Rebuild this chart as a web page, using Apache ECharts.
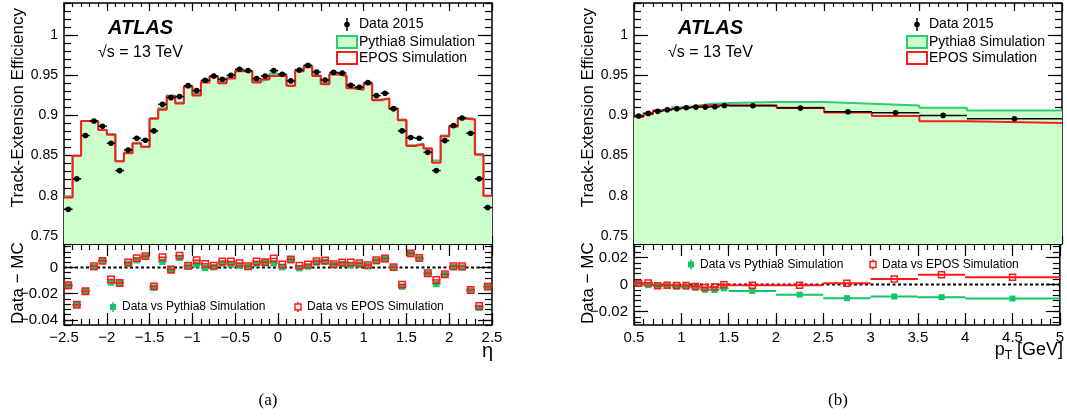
<!DOCTYPE html>
<html>
<head>
<meta charset="utf-8">
<script src="https://cdn.jsdelivr.net/npm/echarts@6/dist/echarts.min.js"></script>
<style>
  html, body { margin: 0; padding: 0; background: #ffffff; }
  #c { width: 1067px; height: 417px; }
</style>
</head>
<body>
<div id="c"></div>
<script>
// ---- eta binning (0.1 wide bins) ----
const etaEdges = [-2.5, -2.4, -2.3, -2.2, -2.1, -2.0, -1.9, -1.8, -1.7, -1.6, -1.5, -1.4, -1.3, -1.2, -1.1, -1.0,
  -0.9, -0.8, -0.7, -0.6, -0.5, -0.4, -0.3, -0.2, -0.1, 0.0, 0.1, 0.2, 0.3, 0.4, 0.5, 0.6, 0.7, 0.8, 0.9, 1.0,
  1.1, 1.2, 1.3, 1.4, 1.5, 1.6, 1.7, 1.8, 1.9, 2.0, 2.1, 2.2, 2.3, 2.4, 2.5];

const etaData = [0.7833, 0.8211, 0.8750, 0.8932, 0.8866, 0.8654, 0.8314, 0.8571, 0.8716, 0.8692,
  0.8808, 0.9139, 0.9222, 0.9235, 0.9371, 0.9309, 0.9438, 0.9492, 0.9450, 0.9500,
  0.9575, 0.9558, 0.9459, 0.9492, 0.9558, 0.9512, 0.9430, 0.9566, 0.9624, 0.9541,
  0.9442, 0.9537, 0.9529, 0.9376, 0.9351, 0.9409, 0.9247, 0.9276, 0.9085, 0.8808,
  0.8725, 0.8716, 0.8542, 0.8314, 0.8687, 0.8874, 0.8969, 0.8779, 0.8211, 0.7854];

const etaPythia = [0.799, 0.850, 0.893, 0.893, 0.882, 0.877, 0.843, 0.854, 0.866, 0.861,
  0.897, 0.909, 0.925, 0.916, 0.936, 0.927, 0.943, 0.949, 0.942, 0.947,
  0.956, 0.955, 0.943, 0.945, 0.952, 0.951, 0.937, 0.957, 0.962, 0.950,
  0.940, 0.952, 0.950, 0.936, 0.933, 0.940, 0.920, 0.921, 0.909, 0.895,
  0.863, 0.865, 0.859, 0.844, 0.875, 0.887, 0.897, 0.896, 0.852, 0.800];

const etaEpos = [0.798, 0.850, 0.893, 0.892, 0.882, 0.876, 0.843, 0.853, 0.865, 0.861,
  0.896, 0.907, 0.924, 0.915, 0.936, 0.925, 0.941, 0.948, 0.940, 0.946,
  0.955, 0.955, 0.941, 0.945, 0.949, 0.949, 0.937, 0.955, 0.960, 0.949,
  0.939, 0.951, 0.949, 0.934, 0.932, 0.939, 0.919, 0.921, 0.908, 0.894,
  0.862, 0.864, 0.859, 0.841, 0.874, 0.886, 0.896, 0.895, 0.851, 0.800];

const etaDiffPythia = [-0.0141, -0.0285, -0.0182, 0.0003, 0.0051, -0.0115, -0.0118, 0.0028, 0.0056, 0.0082,
  -0.0154, 0.0044, -0.0023, 0.0074, 0.0008, 0.0023, -0.0003, 0.0003, 0.0031, 0.0023,
  0.0015, 0.0005, 0.0028, 0.0040, 0.0033, 0.0003, 0.0056, -0.0005, 0.0008, 0.0038,
  0.0044, 0.0018, 0.0028, 0.0018, 0.0023, 0.0010, 0.0049, 0.0064, 0.0000, -0.0146,
  0.0103, 0.0067, -0.0049, -0.0126, -0.0056, 0.0003, 0.0000, -0.0177, -0.0308, -0.0149];

const etaDiffEpos = [-0.0136, -0.0285, -0.0182, 0.0010, 0.0051, -0.0092, -0.0118, 0.0038, 0.0072, 0.0087,
  -0.0144, 0.0079, -0.0015, 0.0090, 0.0013, 0.0056, 0.0028, 0.0013, 0.0046, 0.0046,
  0.0033, 0.0010, 0.0046, 0.0040, 0.0069, 0.0023, 0.0062, 0.0013, 0.0023, 0.0049,
  0.0054, 0.0026, 0.0038, 0.0038, 0.0033, 0.0018, 0.0056, 0.0069, 0.0003, -0.0131,
  0.0108, 0.0074, -0.0044, -0.0095, -0.0051, 0.0010, 0.0010, -0.0172, -0.0295, -0.0146];

// ---- pT binning (GeV) ----
const ptEdges = [0.5, 0.6, 0.7, 0.8, 0.9, 1.0, 1.1, 1.2, 1.3, 1.4, 1.5, 2.0, 2.5, 3.0, 3.5, 4.0, 5.0];

const ptData = [0.8993, 0.9026, 0.9051, 0.9071, 0.9084, 0.9096, 0.9104, 0.9104, 0.9109, 0.9125,
  0.9121, 0.9092, 0.9046, 0.9034, 0.9001, 0.8959];
const ptPythia = [0.8988, 0.9031, 0.9058, 0.9076, 0.9101, 0.9113, 0.9128, 0.9143, 0.9150, 0.9154,
  0.9169, 0.9167, 0.9147, 0.9123, 0.9095, 0.9063];
const ptEpos = [0.8983, 0.9014, 0.9061, 0.9076, 0.9091, 0.9103, 0.9118, 0.9126, 0.9128, 0.9127,
  0.9126, 0.9097, 0.9036, 0.8993, 0.8929, 0.8906];
const ptDiffPythia = [0.0005, -0.0005, -0.0007, -0.0005, -0.0017, -0.0017, -0.0024, -0.0039, -0.0041, -0.0029,
  -0.0048, -0.0075, -0.0101, -0.0089, -0.0094, -0.0104];
const ptDiffEpos = [0.0010, 0.0012, -0.0010, -0.0005, -0.0007, -0.0007, -0.0014, -0.0022, -0.0019, -0.0002,
  -0.0005, -0.0005, 0.0010, 0.0041, 0.0072, 0.0053];

// ---- tick labels ----
const etaTicks = [-2.5, -2, -1.5, -1, -0.5, 0, 0.5, 1, 1.5, 2, 2.5];
const ptTicks = [0.5, 1, 1.5, 2, 2.5, 3, 3.5, 4, 4.5, 5];
const effTicks = [0.75, 0.8, 0.85, 0.9, 0.95, 1];
const etaDiffTicks = [-0.04, -0.02, 0];
const ptDiffTicks = [-0.02, 0, 0.02];

// ---- styling ----
const SANS = 'Liberation Sans, Arial, Helvetica, sans-serif';
const SERIF = 'Liberation Serif, Times New Roman, serif';
const GREEN = '#2ecc71';
const GREEN_MK = '#12c66a';
const RED = '#ff1a1a';
const FILL = '#ccffcc';

const GRIDS = [
  { left: 64, top: 3, width: 428, height: 241 },   // efficiency vs eta
  { left: 64, top: 244, width: 428, height: 81 },  // data - MC vs eta
  { left: 634, top: 3, width: 428, height: 241 },  // efficiency vs pT
  { left: 634, top: 244, width: 428, height: 81 }  // data - MC vs pT
];

function steps(edges, vals) {
  const pts = [];
  vals.forEach((v, i) => { pts.push([edges[i], v], [edges[i + 1], v]); });
  return pts;
}
function bins(edges, vals) {
  return vals.map((v, i) => [edges[i], edges[i + 1], v]);
}
function seq(min, max, step) {
  const out = [];
  const n = Math.floor((max - min) / step + 1e-6);
  for (let k = 0; k <= n; k++) out.push(+(min + k * step).toFixed(6));
  return out;
}
const minus = v => String(+(+v).toFixed(4)).replace('-', '\u2212');

// four axes per dimension and grid: primary major+labels, minor, mirrored major, mirrored minor
function axisSet(dim, gridIndex, min, max, majors, minorStep, majLen, minLen, label) {
  const pos = dim === 'x' ? ['bottom', 'top'] : ['left', 'right'];
  const minors = seq(Math.ceil(min / minorStep - 1e-6) * minorStep, max, minorStep);
  const out = [];
  pos.forEach((p, pi) => {
    out.push({
      type: 'value', gridIndex, position: p, min, max,
      axisLine: { show: false, onZero: false }, splitLine: { show: false },
      axisTick: { show: true, inside: true, length: majLen, customValues: majors, lineStyle: { color: '#000', width: 1.2 } },
      axisLabel: (pi === 0 && label) ? Object.assign({
        show: true, customValues: majors, formatter: minus, color: '#000', fontFamily: SANS
      }, label) : { show: false }
    });
    out.push({
      type: 'value', gridIndex, position: p, min, max,
      axisLine: { show: false, onZero: false }, splitLine: { show: false },
      axisTick: { show: true, inside: true, length: minLen, customValues: minors, lineStyle: { color: '#000', width: 1.2 } },
      axisLabel: { show: false }
    });
  });
  return out;
}

const xAxis = [].concat(
  axisSet('x', 0, -2.5, 2.5, etaTicks, 0.1, 8, 4, null),
  axisSet('x', 1, -2.5, 2.5, etaTicks, 0.1, 12, 6, { fontSize: 15, margin: 5 }),
  axisSet('x', 2, 0.5, 5, ptTicks, 0.1, 8, 4, null),
  axisSet('x', 3, 0.5, 5, ptTicks, 0.1, 12, 6, { fontSize: 15, margin: 5 })
);
const yAxis = [].concat(
  axisSet('y', 0, 0.74, 1.04, effTicks, 0.01, 14, 7, { fontSize: 14, margin: 6 }),
  axisSet('y', 1, -0.044, 0.018, etaDiffTicks, 0.004, 14, 7, { fontSize: 15, margin: 6 }),
  axisSet('y', 2, 0.74, 1.04, effTicks, 0.01, 14, 7, { fontSize: 14, margin: 6 }),
  axisSet('y', 3, -0.03, 0.03, ptDiffTicks, 0.004, 14, 7, { fontSize: 15, margin: 6 })
);

// horizontal bin-width bar plus a marker at the bin centre
function pointRenderer(shape, color, size, barWidth) {
  return function (params, api) {
    const v = api.value(2);
    const a = api.coord([api.value(0), v]);
    const b = api.coord([api.value(1), v]);
    const cx = (a[0] + b[0]) / 2, cy = a[1];
    const children = [{
      type: 'line', shape: { x1: a[0], y1: a[1], x2: b[0], y2: b[1] },
      style: { stroke: color, lineWidth: barWidth }
    }];
    if (shape === 'circle') {
      children.push({ type: 'circle', shape: { cx, cy, r: size }, style: { fill: color } });
    } else if (shape === 'square') {
      children.push({ type: 'rect', shape: { x: cx - size, y: cy - size, width: 2 * size, height: 2 * size }, style: { fill: color } });
    } else {
      children.push({ type: 'rect', shape: { x: cx - size, y: cy - size, width: 2 * size, height: 2 * size },
        style: { fill: 'none', stroke: color, lineWidth: 1.5 } });
    }
    return { type: 'group', children };
  };
}

function histSeries(name, ax, edges, vals, color, filled, z) {
  const s = {
    type: 'line', name, xAxisIndex: ax, yAxisIndex: ax, data: steps(edges, vals),
    symbol: 'none', silent: true, animation: false, z,
    lineStyle: { color, width: 2 }
  };
  if (filled) s.areaStyle = { color: FILL, opacity: 1, origin: 'start' };
  return s;
}
function pointSeries(name, ax, edges, vals, shape, color, size, barWidth, z) {
  return {
    type: 'custom', name, xAxisIndex: ax, yAxisIndex: ax, coordinateSystem: 'cartesian2d',
    data: bins(edges, vals), encode: { x: [0, 1], y: 2 }, clip: true,
    renderItem: pointRenderer(shape, color, size, barWidth), silent: true, animation: false, z
  };
}
function zeroLine(ax, x0, x1) {
  return {
    type: 'line', xAxisIndex: ax, yAxisIndex: ax, data: [[x0, 0], [x1, 0]], symbol: 'none',
    silent: true, animation: false, z: 1,
    lineStyle: { color: '#000', width: 2, type: [3, 2.5] }
  };
}

const series = [
  histSeries('Pythia8 Simulation', 0, etaEdges, etaPythia, GREEN, true, 1),
  histSeries('EPOS Simulation', 0, etaEdges, etaEpos, RED, false, 2),
  pointSeries('Data 2015', 0, etaEdges, etaData, 'circle', '#000', 2.8, 1.5, 3),

  zeroLine(4, -2.5, 2.5),
  pointSeries('Data vs Pythia8 Simulation', 4, etaEdges, etaDiffPythia, 'square', GREEN_MK, 3.2, 1.5, 2),
  pointSeries('Data vs EPOS Simulation', 4, etaEdges, etaDiffEpos, 'open', RED, 3.2, 1.5, 3),

  histSeries('Pythia8 Simulation', 8, ptEdges, ptPythia, GREEN, true, 1),
  histSeries('EPOS Simulation', 8, ptEdges, ptEpos, RED, false, 2),
  pointSeries('Data 2015', 8, ptEdges, ptData, 'circle', '#000', 2.8, 1.5, 3),

  zeroLine(12, 0.5, 5),
  pointSeries('Data vs Pythia8 Simulation', 12, ptEdges, ptDiffPythia, 'square', GREEN_MK, 3, 2, 2),
  pointSeries('Data vs EPOS Simulation', 12, ptEdges, ptDiffEpos, 'open', RED, 3, 2, 3)
];

// ---- annotations: labels, legends, axis titles ----
function txt(x, y, text, size, opts) {
  return Object.assign({
    type: 'text', x, y, silent: true, z: 100,
    style: Object.assign({ text, fill: '#000', font: size + 'px ' + SANS, textAlign: 'left', textVerticalAlign: 'middle' },
      (opts && opts.style) || {})
  }, (opts && opts.el) || {});
}
function panelDecor(ox, lowerLegendY, lowerLegendX) {
  const g = [];
  // axis titles
  g.push(txt(ox + 18, 8, 'Track-Extension Efficiency', 17, { style: { textAlign: 'right' }, el: { rotation: Math.PI / 2 } }));
  g.push(txt(ox + 18, 324, 'Data \u2212 MC', 17, { style: { textAlign: 'left' }, el: { rotation: Math.PI / 2 } }));
  // experiment label
  g.push(txt(ox + 108, 28, 'ATLAS', 20, { style: { font: 'italic bold 20px ' + SANS } }));
  g.push(txt(ox + 98, 53, '\u221As = 13 TeV', 16));
  // upper legend
  g.push({ type: 'line', silent: true, z: 100, shape: { x1: ox + 347, y1: 18, x2: ox + 347, y2: 31 }, style: { stroke: '#000', lineWidth: 1.5 } });
  g.push({ type: 'circle', silent: true, z: 100, shape: { cx: ox + 347, cy: 24.5, r: 2.8 }, style: { fill: '#000' } });
  g.push(txt(ox + 359, 24.5, 'Data 2015', 14));
  g.push({ type: 'rect', silent: true, z: 100, shape: { x: ox + 337, y: 36, width: 20, height: 12 }, style: { fill: FILL, stroke: GREEN, lineWidth: 2 } });
  g.push(txt(ox + 359, 42, 'Pythia8 Simulation', 14));
  g.push({ type: 'rect', silent: true, z: 100, shape: { x: ox + 337, y: 52, width: 20, height: 12 }, style: { fill: '#fff', stroke: RED, lineWidth: 2 } });
  g.push(txt(ox + 359, 58, 'EPOS Simulation', 14));
  // lower legend
  const [px, ex] = lowerLegendX;
  const y = lowerLegendY;
  g.push({ type: 'line', silent: true, z: 100, shape: { x1: ox + px, y1: y - 5, x2: ox + px, y2: y + 5 }, style: { stroke: GREEN_MK, lineWidth: 1.5 } });
  g.push({ type: 'rect', silent: true, z: 100, shape: { x: ox + px - 3, y: y - 3, width: 6, height: 6 }, style: { fill: GREEN_MK } });
  g.push(txt(ox + px + 9, y, 'Data vs Pythia8 Simulation', 12));
  g.push({ type: 'line', silent: true, z: 100, shape: { x1: ox + ex, y1: y - 5, x2: ox + ex, y2: y + 5 }, style: { stroke: RED, lineWidth: 1.5 } });
  g.push({ type: 'rect', silent: true, z: 100, shape: { x: ox + ex - 3, y: y - 3, width: 6, height: 6 }, style: { fill: '#fff', stroke: RED, lineWidth: 1.5 } });
  g.push(txt(ox + ex + 9, y, 'Data vs EPOS Simulation', 12));
  return g;
}

const graphic = [].concat(
  panelDecor(0, 307, [113, 298]),
  panelDecor(570, 264.5, [121, 303]),
  [
    txt(493, 351, '\u03B7', 20, { style: { textAlign: 'right' } }),
    {
      type: 'text', x: 1063, y: 350, silent: true, z: 100,
      style: {
        text: '{p|p}{s|T}{p| [GeV]}', textAlign: 'right', textVerticalAlign: 'middle', fill: '#000',
        rich: {
          p: { fontFamily: SANS, fontSize: 18, fill: '#000' },
          s: { fontFamily: SANS, fontSize: 12, fill: '#000', padding: [12, 0, 0, 0] }
        }
      }
    },
    txt(268, 401, '(a)', 17, { style: { font: '17px ' + SERIF, textAlign: 'center' } }),
    txt(838, 401, '(b)', 17, { style: { font: '17px ' + SERIF, textAlign: 'center' } })
  ]
);

const chart = echarts.init(document.getElementById('c'), null, { renderer: 'canvas', width: 1067, height: 417 });
chart.setOption({
  animation: false,
  backgroundColor: '#ffffff',
  grid: GRIDS.map(g => Object.assign({ show: true, borderColor: '#000', borderWidth: 1.5, backgroundColor: 'transparent', containLabel: false }, g)),
  xAxis,
  yAxis,
  series,
  graphic
});
</script>
</body>
</html>
